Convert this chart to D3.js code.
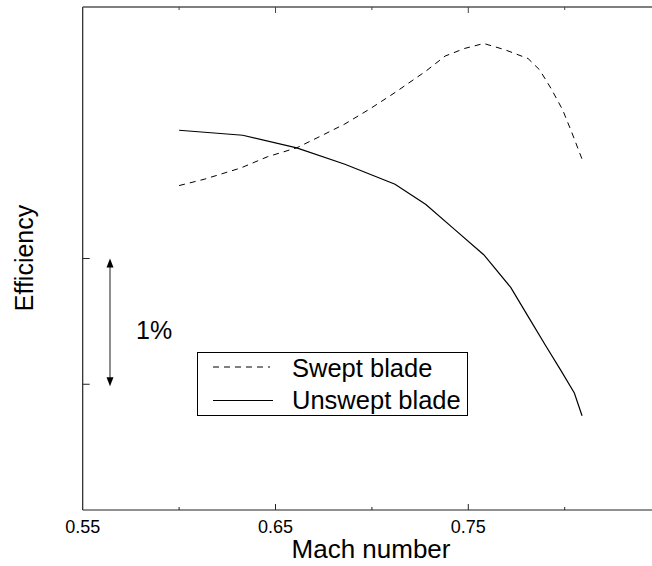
<!DOCTYPE html>
<html>
<head>
<meta charset="utf-8">
<script src="https://cdn.jsdelivr.net/npm/d3@7"></script>
<style>
  body { margin: 0; background: #fff; }
  text { font-family: "Liberation Sans", Arial, Helvetica, sans-serif; fill: #000; }
</style>
</head>
<body>
<div id="chart"></div>
<script>
// data (efficiency in % relative to the upper tick)
const sweptMach = [0.600, 0.613, 0.632, 0.646, 0.661, 0.673, 0.686, 0.699, 0.712, 0.728, 0.738, 0.748, 0.758, 0.769, 0.781, 0.787, 0.793, 0.799, 0.804, 0.809];
const sweptEff = [0.58, 0.63, 0.72, 0.81, 0.88, 0.97, 1.07, 1.19, 1.32, 1.49, 1.61, 1.67, 1.71, 1.66, 1.59, 1.50, 1.35, 1.18, 0.99, 0.79];
const unsweptMach = [0.600, 0.633, 0.661, 0.686, 0.712, 0.728, 0.743, 0.758, 0.772, 0.781, 0.790, 0.798, 0.805, 0.809];
const unsweptEff = [1.02, 0.98, 0.88, 0.75, 0.59, 0.43, 0.23, 0.03, -0.23, -0.46, -0.69, -0.89, -1.07, -1.25];

const seriesNames = ["Swept blade", "Unswept blade"];
const minorTicks = [0.60, 0.70, 0.80];
const majorTicks = [0.65, 0.75];
const tickLabels = ["0.55", "0.65", "0.75"];
const effTicks = [0, -1];

const WIDTH = 652;
const HEIGHT = 566;

const svg = d3.select("#chart")
  .append("svg")
  .attr("width", WIDTH)
  .attr("height", HEIGHT);

// scales
const x = d3.scaleLinear().domain([0.55, 0.85]).range([82.7, 661.1]);
const y = d3.scaleLinear().domain([-2, 2]).range([510, 7]);

// frame: left and bottom axis, top border
svg.append("line")
  .attr("x1", x(0.55)).attr("x2", x(0.55))
  .attr("y1", y(2)).attr("y2", y(-2))
  .attr("stroke", "#222").attr("stroke-width", 1.2);
svg.append("line")
  .attr("x1", x(0.55)).attr("x2", WIDTH)
  .attr("y1", y(-2)).attr("y2", y(-2))
  .attr("stroke", "#222").attr("stroke-width", 1.2);
svg.append("line")
  .attr("x1", x(0.55)).attr("x2", WIDTH)
  .attr("y1", y(2)).attr("y2", y(2))
  .attr("stroke", "#555").attr("stroke-width", 1.5);

// x ticks, bottom and top, pointing inward
const allTicks = minorTicks.map(v => ({ v, len: 3 }))
  .concat(majorTicks.map(v => ({ v, len: 6 })));

svg.selectAll(".tick-b")
  .data(allTicks)
  .enter()
  .append("line")
  .attr("x1", d => x(d.v)).attr("x2", d => x(d.v))
  .attr("y1", y(-2)).attr("y2", d => y(-2) - d.len)
  .attr("stroke", "#222");

svg.selectAll(".tick-t")
  .data(allTicks)
  .enter()
  .append("line")
  .attr("x1", d => x(d.v)).attr("x2", d => x(d.v))
  .attr("y1", y(2)).attr("y2", d => y(2) + d.len)
  .attr("stroke", "#444");

// y ticks
svg.selectAll(".tick-y")
  .data(effTicks)
  .enter()
  .append("line")
  .attr("x1", x(0.55)).attr("x2", x(0.55) + 7)
  .attr("y1", d => y(d)).attr("y2", d => y(d))
  .attr("stroke", "#222");

// tick labels
svg.selectAll(".xlabel")
  .data(tickLabels)
  .enter()
  .append("text")
  .attr("x", d => x(+d))
  .attr("y", 533)
  .attr("text-anchor", "middle")
  .attr("font-size", "18px")
  .text(d => d);

// axis titles
svg.append("text")
  .attr("x", 371)
  .attr("y", 558)
  .attr("text-anchor", "middle")
  .attr("font-size", "26px")
  .text("Mach number");

svg.append("text")
  .attr("transform", "translate(33, 258) rotate(-90)")
  .attr("text-anchor", "middle")
  .attr("font-size", "25px")
  .text("Efficiency");

// the curves
const line = d3.line()
  .x(d => x(d[0]))
  .y(d => y(d[1]));

svg.append("path")
  .datum(d3.zip(sweptMach, sweptEff))
  .attr("d", line)
  .attr("fill", "none")
  .attr("stroke", "#000")
  .attr("stroke-width", 1)
  .attr("stroke-dasharray", "6,5");

svg.append("path")
  .datum(d3.zip(unsweptMach, unsweptEff))
  .attr("d", line)
  .attr("fill", "none")
  .attr("stroke", "#000")
  .attr("stroke-width", 1.2);

// 1% scale arrow
const ax = 110;
svg.append("line")
  .attr("x1", ax).attr("x2", ax)
  .attr("y1", y(0) + 6).attr("y2", y(-1) - 6)
  .attr("stroke", "#444").attr("stroke-width", 1.2);
svg.append("path")
  .attr("d", `M${ax},${y(0)} L${ax - 3.5},${y(0) + 9} L${ax + 3.5},${y(0) + 9} Z`)
  .attr("fill", "#000");
svg.append("path")
  .attr("d", `M${ax},${y(-1) + 2} L${ax - 3.5},${y(-1) - 7} L${ax + 3.5},${y(-1) - 7} Z`)
  .attr("fill", "#000");
svg.append("text")
  .attr("x", 136)
  .attr("y", 339)
  .attr("font-size", "25px")
  .text("1%");

// legend
const legend = svg.append("g");
legend.append("rect")
  .attr("x", 197.5).attr("y", 352.5)
  .attr("width", 270).attr("height", 63)
  .attr("fill", "#fff")
  .attr("stroke", "#000");

legend.selectAll(".sample")
  .data(seriesNames)
  .enter()
  .append("line")
  .attr("x1", 213).attr("x2", (d, i) => i === 0 ? 270 : 273)
  .attr("y1", (d, i) => 367 + i * 33.5).attr("y2", (d, i) => 367 + i * 33.5)
  .attr("stroke", "#000")
  .attr("stroke-width", (d, i) => i === 0 ? 1 : 1.2)
  .attr("stroke-dasharray", (d, i) => i === 0 ? "6,5" : null);

legend.selectAll(".label")
  .data(seriesNames)
  .enter()
  .append("text")
  .attr("x", 292)
  .attr("y", (d, i) => 377 + i * 31.5)
  .attr("font-size", "25.5px")
  .text(d => d);
</script>
</body>
</html>
